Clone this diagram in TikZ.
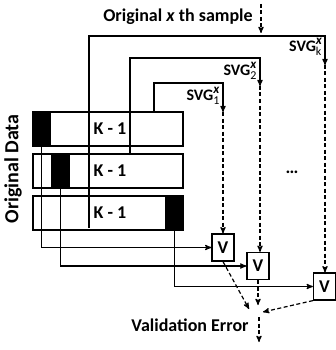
\documentclass[tikz,border=0pt]{standalone}
\usepackage{fontspec}
\setmainfont{Carlito}
\usepackage{tikz}
\usetikzlibrary{arrows,positioning}

\newcommand{\svgname}[1]{SVG\rlap{\raisebox{7pt}{\fontsize{13}{13}\selectfont\textit{x}}}\raisebox{-4pt}{\fontsize{12}{12}\selectfont$\mathrm{#1}$}}

\begin{document}
\begin{tikzpicture}[x=1pt,y=-1pt,>=stealth',line width=1.2pt,node distance=42pt,
	txt/.style={font=\bfseries\fontsize{18}{20}\selectfont,inner sep=0pt},
	svg/.style={font=\bfseries\fontsize{16}{18}\selectfont,inner sep=0pt,anchor=east},
	rowbox/.style={draw,minimum width=150pt,minimum height=34pt,inner sep=0pt},
	cell/.style={draw,fill=black,minimum width=17pt,minimum height=34pt,inner sep=0pt},
	vbox/.style={draw,fill=white,minimum width=22pt,minimum height=27pt,inner sep=0pt,font=\bfseries\fontsize{18}{20}\selectfont},
	dsh/.style={dashed,dash pattern=on 4pt off 2.5pt}]
	\useasboundingbox (0,0) rectangle (336,350);

	% the data, three times
	\node[rowbox] (r1) at (108,129) {};
	\node[rowbox] (r2) [below of=r1] {};
	\node[rowbox] (r3) [below of=r2] {};
	\node[cell, anchor=west] (b1) at (r1.west) {};
	\node[cell, anchor=west] (b2) at ([xshift=19pt]r2.west) {};
	\node[cell, anchor=east] (b3) at (r3.east) {};
	\node[txt, anchor=west] (k1) at (93,129) {K - 1};
	\node[txt, anchor=west] (k2) at (93,171) {K - 1};
	\node[txt, anchor=west] (k3) at (93,213) {K - 1};
	\node[txt, rotate=90, font=\bfseries\fontsize{20}{22}\selectfont] (data) at (13,169) {Original Data};

	% validation boxes
	\node[vbox] (v1) at (223,247.5) {V};
	\node[vbox] (v2) at (258,266)   {V};
	\node[vbox] (v3) at (324.5,286.5) {V};

	% labels
	\node[txt] (orig) at (178,17) {Original \textit{x} th sample};
	\node[txt] (err)  at (190,325) {Validation Error};
	\node[svg] (svgk) at (322,47) {\svgname{k}};
	\node[svg] (svg2) at (257,71) {\svgname{2}};
	\node[svg] (svg1) at (220,96) {\svgname{1}};
	\node[txt] (dots) at (292,172) {\dots};

	\coordinate (in0) at (261,4);
	\coordinate (in1) at (261,33);
	\coordinate (a1) at (154,112);
	\coordinate (c1) at (223,83);
	\coordinate (d1) at (223,112);
	\coordinate (a2) at (130,155);
	\coordinate (c2) at (260,58);
	\coordinate (d2) at (260,86);
	\coordinate (ak) at (89,228);
	\coordinate (ck) at (325,36);
	\coordinate (dk) at (325,65);
	\coordinate (e1) at (249,309);
	\coordinate (e2) at (258,305);
	\coordinate (e3) at (263,312);
	\coordinate (out0) at (259,317);
	\coordinate (out1) at (259,342);

	\draw[->, dsh] (in0) -- (in1);
	\draw[->] (ak) |- (ck) -- (dk);
	\draw[->] (a2) |- (c2) -- (d2);
	\draw[->] (a1) |- (c1) -- (d1);
	\draw[->, dsh] (d1) -- (v1.north);
	\draw[->, dsh] (d2) -- (d2 |- v2.north);
	\draw[->, dsh] (dk) -- (dk |- v3.north);

	\draw[->] (b1.south) |- (v1.west);
	\draw[->] (b2.south) |- (v2.west);
	\draw[->] (b3.south) |- (v3.west);

	\draw[->, dsh] (v1.south) -- (e1);
	\draw[->, dsh] (v2.south) -- (e2);
	\draw[->, dsh] (v3.south west) -- (e3);
	\draw[->, dsh] (out0) -- (out1);

\end{tikzpicture}
\end{document}
